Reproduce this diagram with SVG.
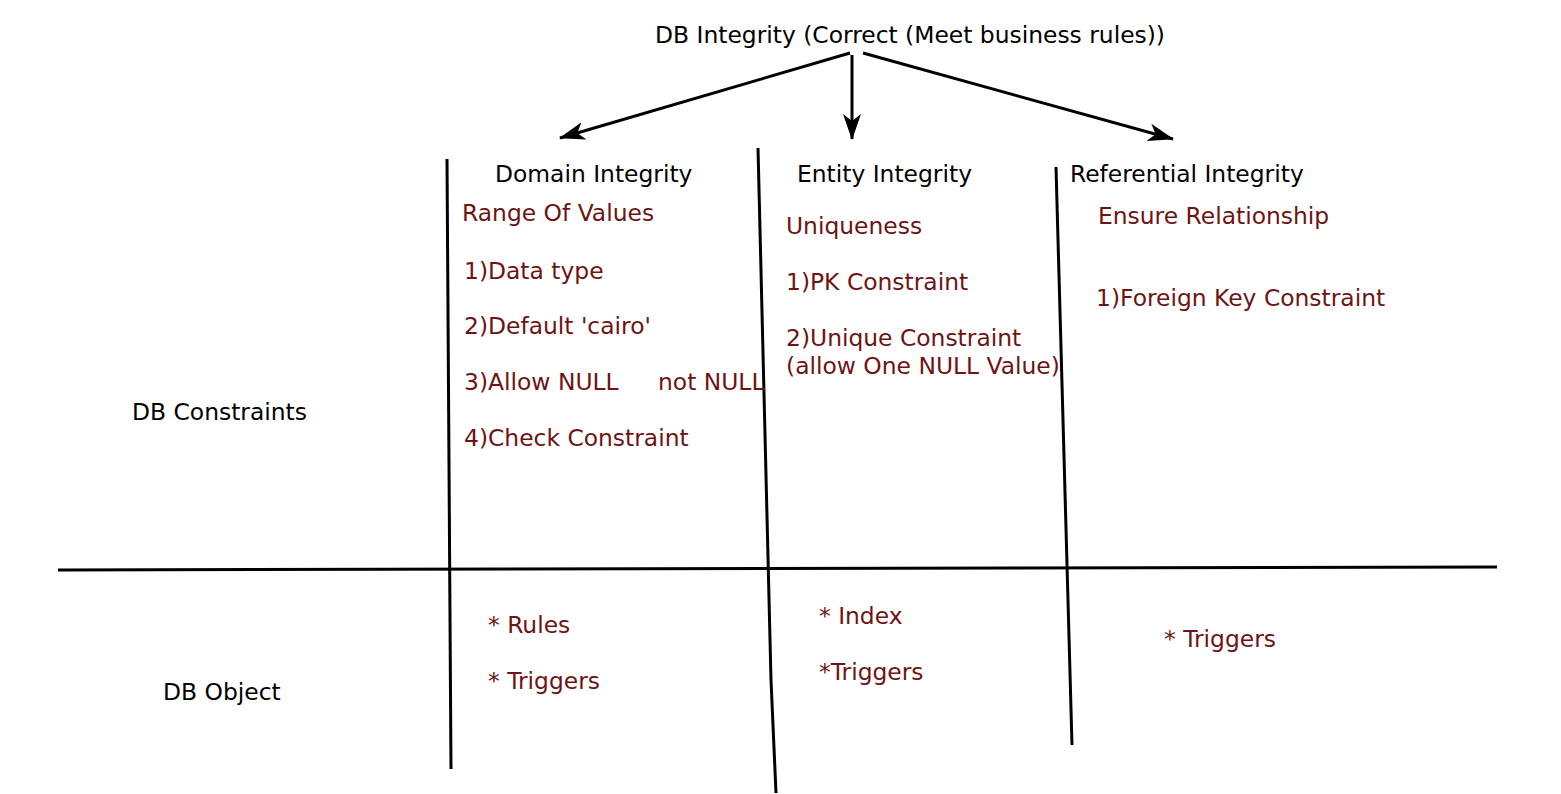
<svg xmlns="http://www.w3.org/2000/svg" width="1561" height="794" viewBox="0 0 1561 794">
<defs>
<marker id="arr" markerWidth="26" markerHeight="20" viewBox="0 0 26 20" refX="25" refY="10" orient="auto" markerUnits="userSpaceOnUse">
<path d="M0,1 L26,10 L0,19 L7,10 Z" fill="#000"/>
</marker>
</defs>
<style>
text{font-family:"DejaVu Sans",Verdana,sans-serif;font-size:23.4px}
.k{fill:#000}
.m{fill:#6e1414}
.ln{stroke:#000;stroke-width:3;fill:none}
.ar{stroke:#000;stroke-width:3;fill:none;marker-end:url(#arr)}
</style>
<rect width="1561" height="794" fill="#fff"/>
<g id="connectors">
<path class="ar" d="M850,53 L560,138"/>
<path class="ar" d="M852,55 L852,139"/>
<path class="ar" d="M863,53 L1173,139"/>
<path class="ln" d="M447,159 L451,769"/>
<path class="ln" d="M758,148 L771,680 L776,793"/>
<path class="ln" d="M1056,167 L1072,745"/>
<path class="ln" d="M58,570 L1497,567"/>
</g>
<g id="root"><text class="k" x="655" y="43">DB Integrity (Correct (Meet business rules))</text></g>
<g id="domain">
<text class="k" x="495" y="182">Domain Integrity</text>
<text class="m" x="462" y="221">Range Of Values</text>
<text class="m" x="464" y="279">1)Data type</text>
<text class="m" x="464" y="334">2)Default 'cairo'</text>
<text class="m" x="464" y="390">3)Allow NULL</text>
<text class="m" x="658" y="390">not NULL</text>
<text class="m" x="464" y="446">4)Check Constraint</text>
<text class="m" x="488" y="633">* Rules</text>
<text class="m" x="488" y="689">* Triggers</text>
</g>
<g id="entity">
<text class="k" x="797" y="182">Entity Integrity</text>
<text class="m" x="786" y="234">Uniqueness</text>
<text class="m" x="786" y="290">1)PK Constraint</text>
<text class="m" x="786" y="346">2)Unique Constraint</text>
<text class="m" x="786" y="374">(allow One NULL Value)</text>
<text class="m" x="819" y="624">* Index</text>
<text class="m" x="819" y="680">*Triggers</text>
</g>
<g id="referential">
<text class="k" x="1070" y="182">Referential Integrity</text>
<text class="m" x="1098" y="224">Ensure Relationship</text>
<text class="m" x="1096" y="306">1)Foreign Key Constraint</text>
<text class="m" x="1164" y="647">* Triggers</text>
</g>
<g id="rows">
<text class="k" x="132" y="420">DB Constraints</text>
<text class="k" x="163" y="700">DB Object</text>
</g>
</svg>
